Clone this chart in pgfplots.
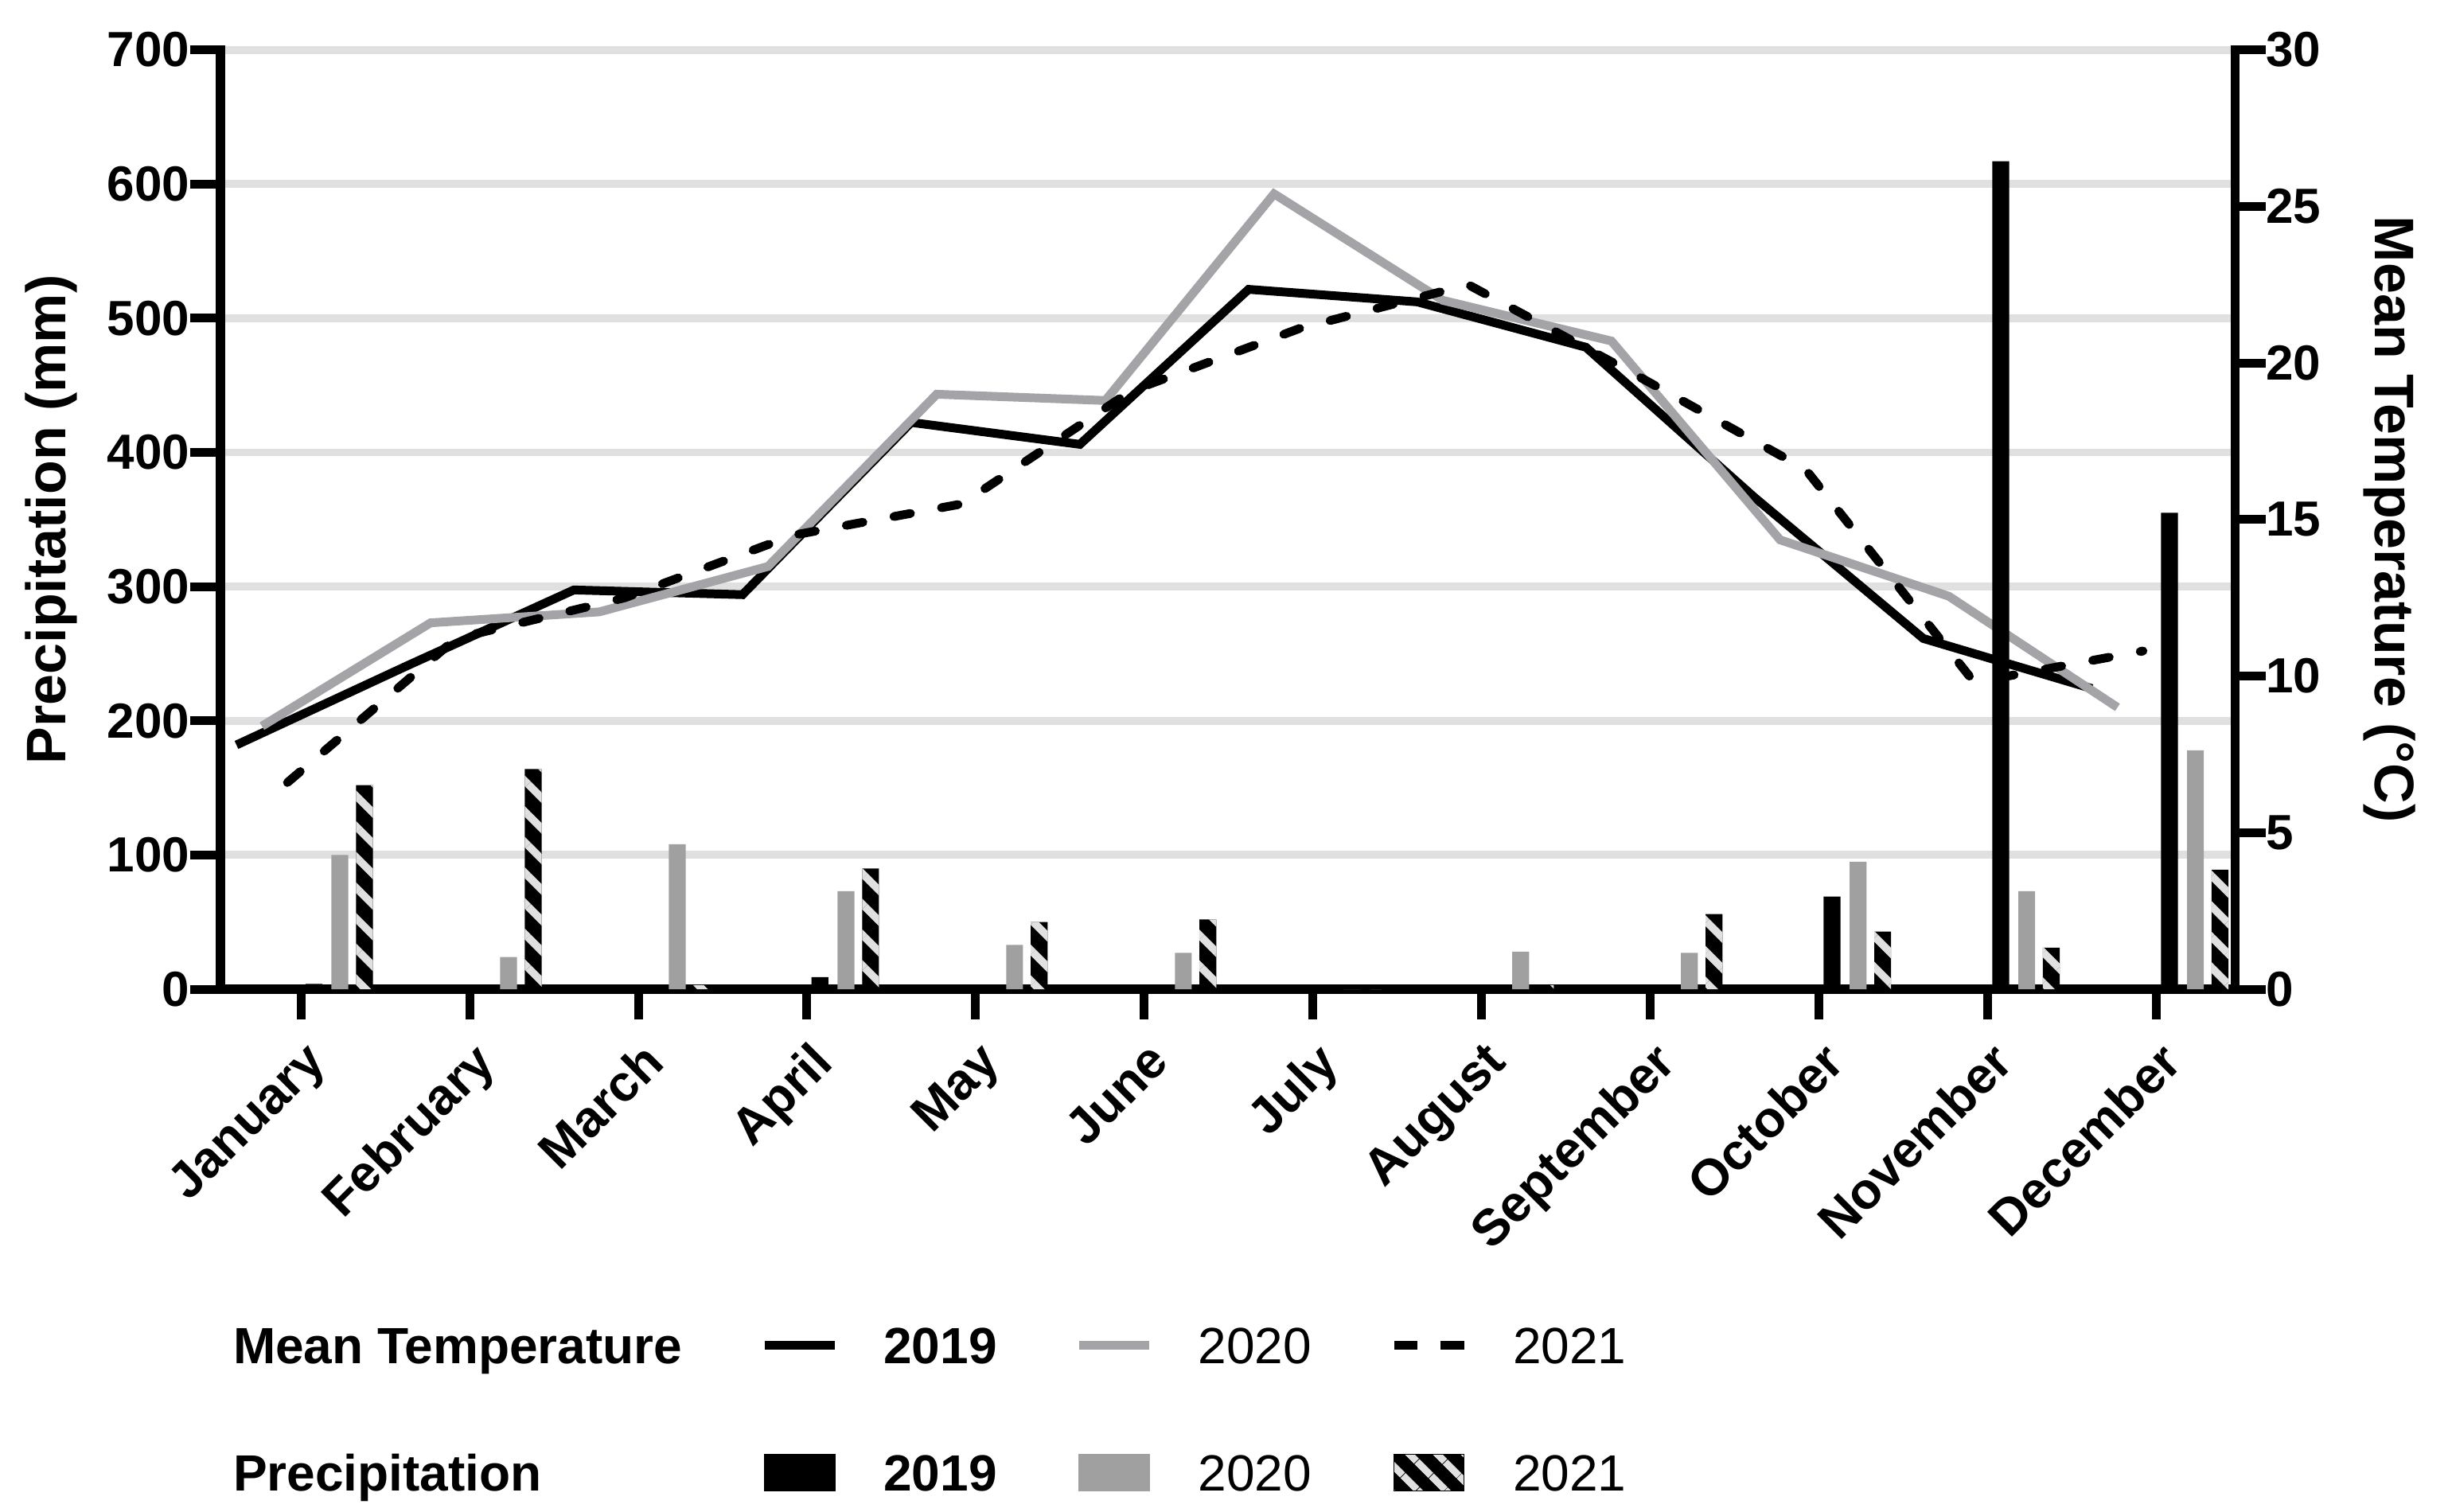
\documentclass[border=0pt]{standalone}
\usepackage{fontspec}
\setmainfont{Liberation Sans}
\usepackage{pgfplots}
\pgfplotsset{compat=1.18}
\usetikzlibrary{patterns.meta}
\definecolor{gridgray}{RGB}{224,224,224}
\definecolor{linegray}{RGB}{163,163,168}
\definecolor{bargray}{RGB}{160,160,160}
\definecolor{hatchgray}{RGB}{224,224,224}
\newcommand{\tfont}{\fontsize{15.5}{18}\selectfont\bfseries}
\newcommand{\mfont}{\fontsize{16}{19}\selectfont\bfseries}
\newcommand{\lfont}{\fontsize{17.5}{21}\selectfont\bfseries}
\newcommand{\gfont}{\fontsize{16}{19}\selectfont}
\pgfplotsset{
  common/.style={
    scale only axis, width=632.9pt, height=295.1pt,
    xmin=-0.477, xmax=11.467,
    at={(0pt,0pt)}, anchor=south west,
  },
  spines/.style={
    axis line style={line width=2.8pt, line cap=rect, -},
    tick align=outside, major tick length=9.5pt,
    tick style={line width=2.75pt, black},
    yticklabel style={font=\tfont, inner sep=0pt},
    /pgf/number format/assume math mode=true,
  },
}
\begin{document}
\begin{tikzpicture}
\path[use as bounding box] (-69.25pt,-164pt) rectangle (701pt,310.75pt);
% left axis: grid, spines, x ticks
\begin{axis}[common, spines,
  ymin=0, ymax=700, ytick={0,100,...,700},
  axis x line*=bottom, axis y line*=left,
  xtick={0,...,11},
  xticklabels={January,February,March,April,May,June,July,August,September,October,November,December},
  xticklabel style={yshift=-6pt, xshift=0.5pt, rotate=45, anchor=north east, inner sep=0pt, font=\mfont},
  ymajorgrids, major grid style={line width=2.45pt, gridgray},
  every axis y label/.style={at={(axis description cs:-0.0841,0.5)}, rotate=90, anchor=center},
  ylabel={Precipitation (mm)}, ylabel style={font=\lfont},
]
\addplot[draw=none, forget plot] coordinates {(0,0)};
\end{axis}
% right axis: temperature lines
\begin{axis}[common, spines,
  ymin=0, ymax=30, ytick={0,5,...,30},
  axis x line=none, xtick=\empty, axis y line*=right,
  every axis y label/.style={at={(axis description cs:1.0766,0.5)}, rotate=-90, anchor=center},
  ylabel={Mean Temperature (°C)}, ylabel style={font=\lfont},
]
\addplot[black, line width=2.75pt, line join=miter, line cap=butt] coordinates {
(-0.382,7.8) (0.618,10.3) (1.618,12.75) (2.618,12.6) (3.618,18.1) (4.618,17.4)
(5.618,22.35) (6.618,21.95) (7.618,20.5) (8.618,15.7) (9.618,11.2) (10.618,9.6)};
\addplot[linegray, line width=2.75pt, line join=miter, line cap=butt] coordinates {
(-0.231,8.4) (0.769,11.7) (1.769,12.05) (2.769,13.5) (3.769,19.0) (4.769,18.8)
(5.769,25.4) (6.769,22.0) (7.769,20.7) (8.769,14.35) (9.769,12.55) (10.769,9.0)};
\addplot[black, line width=2.75pt, line join=round, line cap=round, dash pattern=on 5.3pt off 9.9pt] coordinates {
(-0.08,6.6) (0.92,11.2) (1.92,12.5) (2.92,14.5) (3.92,15.5) (4.92,19.1)
(5.92,21.1) (6.92,22.5) (7.92,19.6) (8.92,16.6) (9.92,9.8) (10.92,10.8)};
\end{axis}
% bars on top
\begin{axis}[common, hide axis, ymin=0, ymax=700,
  legend columns=4,
  legend style={at={(axis description cs:-0.0158,-0.36)}, anchor=north west,
    draw=none, fill=none, inner sep=0pt, outer sep=0pt,
    column sep=14pt, row sep=27.25pt,
    /tikz/every even column/.append style={column sep=24.5pt},
    nodes={inner sep=0pt, text height=11.5pt, text depth=0pt},
    font=\gfont},
  legend cell align=left,
]
\addplot[ybar, bar width=0.1, bar shift=0.077, fill=black, draw=none, forget plot] coordinates {
(0,4) (1,0) (2,0) (3,9) (4,0) (5,0) (6,0) (7,0) (8,0) (9,69) (10,617) (11,355)};
\addplot[ybar, bar width=0.1, bar shift=0.231, fill=bargray, draw=none, forget plot] coordinates {
(0,100) (1,24) (2,108) (3,73) (4,33) (5,27) (6,0) (7,28) (8,27) (9,95) (10,73) (11,178)};
\addplot[ybar, bar width=0.1, bar shift=0.377, fill=black, draw=none, forget plot,
  postaction={pattern={Lines[angle=-45,distance=6.8pt,line width=2.4pt]}, pattern color=hatchgray}] coordinates {
(0,152) (1,164) (2,3) (3,90) (4,50) (5,52) (6,0) (7,3) (8,56) (9,43) (10,31) (11,89)};
\addlegendimage{empty legend}\addlegendentry{\textbf{Mean Temperature}}
\addlegendimage{legend image code/.code={\draw[black, line width=2.75pt] (0pt,0pt) -- (22pt,0pt);}}
\addlegendentry{\textbf{2019}}
\addlegendimage{legend image code/.code={\draw[linegray, line width=2.75pt] (0pt,0pt) -- (22pt,0pt);}}
\addlegendentry{2020}
\addlegendimage{legend image code/.code={\draw[black, line width=2.75pt, dash pattern=on 7.3pt off 7.4pt] (0pt,0pt) -- (22pt,0pt);}}
\addlegendentry{2021}
\addlegendimage{empty legend}\addlegendentry{\textbf{Precipitation}}
\addlegendimage{legend image code/.code={\fill[black] (0pt,-5.75pt) rectangle (22pt,5.75pt);}}
\addlegendentry{\textbf{2019}}
\addlegendimage{legend image code/.code={\fill[bargray] (0pt,-5.75pt) rectangle (22pt,5.75pt);}}
\addlegendentry{2020}
\addlegendimage{legend image code/.code={\fill[black] (0pt,-5.75pt) rectangle (22pt,5.75pt);
  \fill[pattern={Lines[angle=-45,distance=6.4pt,line width=2.35pt]}, pattern color=hatchgray] (0pt,-5.75pt) rectangle (22pt,5.75pt);}}
\addlegendentry{2021}
\end{axis}
\end{tikzpicture}
\end{document}
